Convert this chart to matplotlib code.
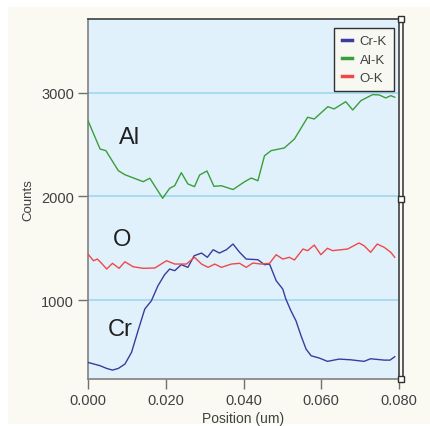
import matplotlib
matplotlib.use("Agg")
import matplotlib.pyplot as plt
from matplotlib.patches import Rectangle

# ---- data ----
al_x = [0.0000, 0.0031, 0.0046, 0.0078, 0.0095, 0.0142, 0.0159, 0.0192, 0.0210, 0.0223,
        0.0240, 0.0257, 0.0274, 0.0287, 0.0306, 0.0324, 0.0343, 0.0373, 0.0403, 0.0420,
        0.0437, 0.0454, 0.0471, 0.0505, 0.0531, 0.0565, 0.0582, 0.0617, 0.0633, 0.0663,
        0.0681, 0.0702, 0.0732, 0.0749, 0.0766, 0.0779, 0.0789]
al_y = [2730, 2457, 2441, 2248, 2209, 2142, 2175, 1982, 2078, 2103,
        2229, 2120, 2094, 2206, 2245, 2097, 2103, 2066, 2142, 2177,
        2151, 2392, 2441, 2467, 2553, 2763, 2746, 2865, 2843, 2913,
        2833, 2923, 2981, 2978, 2949, 2971, 2956]

o_x = [0.0000, 0.0014, 0.0024, 0.0035, 0.0048, 0.0063, 0.0080, 0.0095, 0.0116, 0.0142,
       0.0172, 0.0202, 0.0223, 0.0253, 0.0274, 0.0292, 0.0309, 0.0326, 0.0343, 0.0369,
       0.0390, 0.0407, 0.0424, 0.0445, 0.0467, 0.0484, 0.0501, 0.0518, 0.0531, 0.0553,
       0.0565, 0.0582, 0.0599, 0.0616, 0.0629, 0.0668, 0.0697, 0.0710, 0.0727, 0.0744,
       0.0762, 0.0779, 0.0789]
o_y = [1444, 1380, 1396, 1355, 1300, 1355, 1307, 1370, 1322, 1307,
       1310, 1380, 1348, 1348, 1413, 1348, 1316, 1348, 1316, 1348,
       1355, 1316, 1358, 1348, 1355, 1438, 1396, 1413, 1387, 1493,
       1477, 1531, 1438, 1500, 1477, 1493, 1551, 1525, 1461, 1541,
       1509, 1461, 1413]

cr_x = [0.0000, 0.0031, 0.0048, 0.0063, 0.0078, 0.0095, 0.0112, 0.0130, 0.0146, 0.0163,
        0.0180, 0.0197, 0.0210, 0.0223, 0.0240, 0.0257, 0.0273, 0.0292, 0.0307, 0.0322,
        0.0338, 0.0356, 0.0373, 0.0390, 0.0407, 0.0437, 0.0454, 0.0467, 0.0484, 0.0501,
        0.0509, 0.0522, 0.0535, 0.0548, 0.0561, 0.0574, 0.0595, 0.0616, 0.0646, 0.0676,
        0.0710, 0.0727, 0.0762, 0.0777, 0.0789]
cr_y = [400, 368, 342, 326, 342, 384, 497, 721, 914, 994,
        1139, 1245, 1300, 1284, 1342, 1316, 1428, 1454, 1413, 1486,
        1454, 1486, 1541, 1461, 1396, 1390, 1342, 1348, 1188, 1107,
        1010, 898, 801, 657, 528, 464, 442, 410, 432, 425,
        410, 435, 422, 422, 455]

series_names = ["Cr-K", "Al-K", "O-K"]
annot_labels = ["Al", "O", "Cr"]
x_ticks = [0.000, 0.020, 0.040, 0.060, 0.080]
y_ticks = [1000, 2000, 3000]

W, H = 430, 427
fig = plt.figure(figsize=(W / 100, H / 100), dpi=100, facecolor="white")
plt.rcParams["font.family"] = ["Liberation Sans", "DejaVu Sans"]

# cream panel
fig.patches.append(Rectangle((8 / W, 2 / H), 1 - 8 / W, 1 - 10 / H, transform=fig.transFigure,
                             facecolor="#fafaf2", edgecolor="none", zorder=-10))

L, R, T, B = 88, 399, 20, 380
ax = fig.add_axes([L / W, 1 - B / H, (R - L) / W, (B - T) / H])
ax.set_facecolor("#e1f1fb")

ax.set_xlim(0, 0.08)
ax.set_ylim(240, 3710)

for y in y_ticks:
    ax.axhline(y, color="#9fd8ef", lw=1.2, zorder=1)

ax.plot(cr_x, cr_y, color="#3b3b9e", lw=1.0, label=series_names[0], zorder=3)
ax.plot(al_x, al_y, color="#3a9e3a", lw=1.0, label=series_names[1], zorder=3)
ax.plot(o_x, o_y, color="#f04848", lw=1.0, label=series_names[2], zorder=3)

ax.set_xticks(x_ticks)
ax.set_xticklabels([f"{v:.3f}" for v in x_ticks])
ax.set_yticks(y_ticks)
ax.set_yticklabels([str(v) for v in y_ticks])
ax.tick_params(axis="both", direction="out", length=7, width=1, color="#707070",
               labelcolor="#404040", labelsize=10.5, pad=3)

for s in ["left", "bottom"]:
    ax.spines[s].set_color("#808080")
    ax.spines[s].set_linewidth(1.2)
ax.spines["top"].set_color("#404040")
ax.spines["top"].set_linewidth(1.2)
ax.spines["right"].set_color("#404040")
ax.spines["right"].set_linewidth(1.2)

# double right border with cursor squares
off = 4 / (R - L)
ax.plot([1 + off, 1 + off], [0, 1], transform=ax.transAxes, color="#404040",
        lw=1.2, clip_on=False, zorder=5)
ax.plot([1 + off / 2] * 3, [1, (2000 - 240) / (3710 - 240) - 0.008, 0.0], transform=ax.transAxes,
        ls="none", marker="s", ms=5, mfc="white", mec="#303030", mew=1, clip_on=False, zorder=6)

ax.set_xlabel("Position (um)", fontsize=10, color="#404040", labelpad=3)
ax.set_ylabel("Counts", fontsize=9.5, color="#404040", labelpad=5)

ax.text(0.0108, 2568, annot_labels[0], fontsize=17, ha="center", va="center", color="#202020")
ax.text(0.0087, 1589, annot_labels[1], fontsize=17, ha="center", va="center", color="#202020")
ax.text(0.0083, 721, annot_labels[2], fontsize=17, ha="center", va="center", color="#202020")

leg = ax.legend(loc="upper right", bbox_to_anchor=((394 - L) / (R - L), 1 - 9 / (B - T)),
                fontsize=9.5, frameon=True, fancybox=False, handlelength=0.75,
                handletextpad=0.6, borderpad=0.55, labelspacing=0.45, borderaxespad=0)
leg.get_frame().set_edgecolor("#303030")
leg.get_frame().set_facecolor("#f8f8f2")
leg.get_frame().set_linewidth(1.0)
leg.get_frame().set_alpha(1)
for line in leg.get_lines():
    line.set_linewidth(2.5)
for t in leg.get_texts():
    t.set_color("#404040")

fig.savefig("out.png", dpi=100, facecolor="white")
